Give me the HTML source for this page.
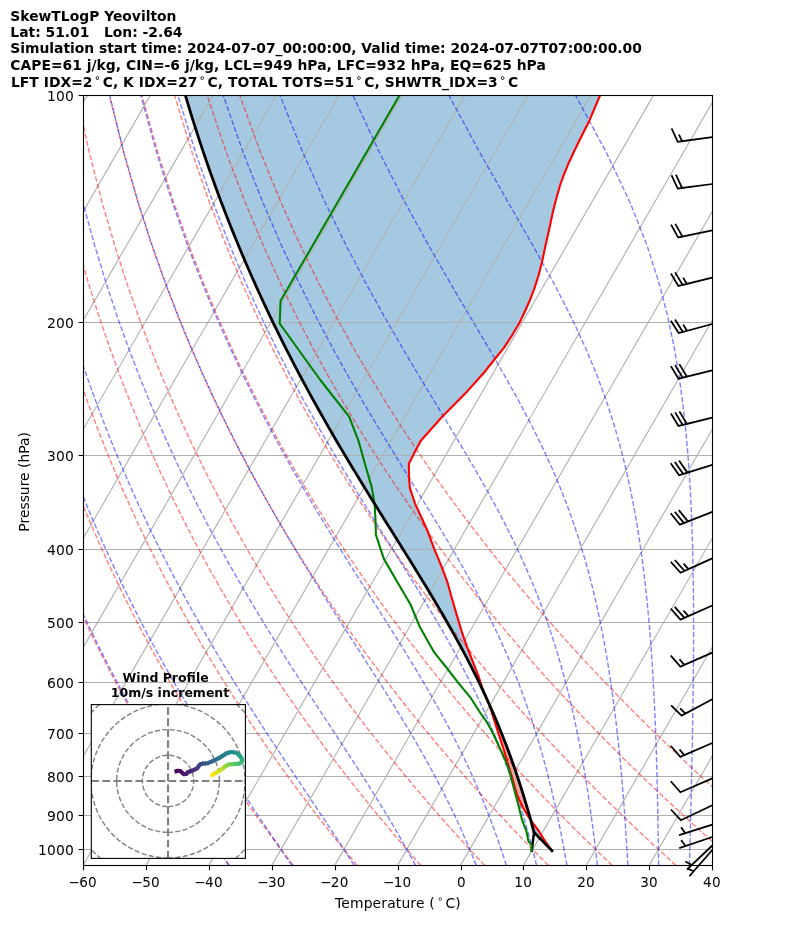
<!DOCTYPE html>
<html lang="en"><head><meta charset="utf-8"><title>SkewTLogP Yeovilton</title><style>html,body{margin:0;padding:0;background:#fff}svg{display:block}</style></head><body>
<svg width="794" height="937" viewBox="0 0 794 937" font-family="'DejaVu Sans','Liberation Sans',sans-serif" font-size="13.889px" fill="#000">
<rect width="794" height="937" fill="#fff"/>
<defs><clipPath id="ax"><rect x="83.5" y="95.5" width="629.0" height="770"/></clipPath></defs>
<g clip-path="url(#ax)">
<path d="M600 95.38 L599.65 96.33 L599.25 97.27 L598.84 98.22 L598.44 99.16 L598.04 100.11 L597.64 101.05 L597.24 102 L596.83 102.94 L596.43 103.89 L596.03 104.83 L595.63 105.78 L595.23 106.72 L594.82 107.67 L594.42 108.61 L594.03 109.56 L593.63 110.51 L593.24 111.45 L592.85 112.4 L592.45 113.34 L592.06 114.29 L591.67 115.23 L591.27 116.18 L590.88 117.12 L590.49 118.07 L590.09 119.01 L589.7 119.96 L589.25 120.9 L588.77 121.85 L588.29 122.79 L587.82 123.74 L587.34 124.69 L586.87 125.63 L586.39 126.58 L585.92 127.52 L585.44 128.47 L584.96 129.41 L584.49 130.36 L584.01 131.3 L583.54 132.25 L583.06 133.19 L582.58 134.14 L582.11 135.08 L581.64 136.03 L581.17 136.97 L580.71 137.92 L580.24 138.87 L579.77 139.81 L579.31 140.76 L578.84 141.7 L578.38 142.65 L577.91 143.59 L577.44 144.54 L576.98 145.48 L576.51 146.43 L576.04 147.37 L575.58 148.32 L575.11 149.26 L574.64 150.21 L574.19 151.15 L573.75 152.1 L573.31 153.05 L572.87 153.99 L572.43 154.94 L571.99 155.88 L571.54 156.83 L571.1 157.77 L570.66 158.72 L570.22 159.66 L569.78 160.61 L569.34 161.55 L568.89 162.5 L568.49 163.44 L568.1 164.39 L567.71 165.33 L567.32 166.28 L566.93 167.23 L566.54 168.17 L566.15 169.12 L565.77 170.06 L565.38 171.01 L564.99 171.95 L564.6 172.9 L564.21 173.84 L563.85 174.79 L563.5 175.73 L563.16 176.68 L562.81 177.62 L562.47 178.57 L562.12 179.51 L561.78 180.46 L561.43 181.41 L561.09 182.35 L560.74 183.3 L560.39 184.24 L560.1 185.19 L559.83 186.13 L559.56 187.08 L559.29 188.02 L559.01 188.97 L558.74 189.91 L558.47 190.86 L558.2 191.8 L557.93 192.75 L557.65 193.69 L557.38 194.64 L557.11 195.59 L556.84 196.53 L556.56 197.48 L556.32 198.42 L556.08 199.37 L555.84 200.31 L555.6 201.26 L555.37 202.2 L555.13 203.15 L554.89 204.09 L554.65 205.04 L554.42 205.98 L554.18 206.93 L553.94 207.87 L553.7 208.82 L553.46 209.77 L553.23 210.71 L552.99 211.66 L552.75 212.6 L552.54 213.55 L552.34 214.49 L552.13 215.44 L551.93 216.38 L551.73 217.33 L551.52 218.27 L551.32 219.22 L551.12 220.16 L550.91 221.11 L550.71 222.05 L550.51 223 L550.3 223.95 L550.1 224.89 L549.9 225.84 L549.69 226.78 L549.49 227.73 L549.29 228.67 L549.08 229.62 L548.87 230.56 L548.66 231.51 L548.45 232.45 L548.23 233.4 L548.02 234.34 L547.81 235.29 L547.6 236.23 L547.38 237.18 L547.17 238.13 L546.96 239.07 L546.74 240.02 L546.53 240.96 L546.32 241.91 L546.11 242.85 L545.89 243.8 L545.68 244.74 L545.48 245.69 L545.28 246.63 L545.07 247.58 L544.87 248.52 L544.67 249.47 L544.47 250.41 L544.27 251.36 L544.07 252.31 L543.87 253.25 L543.67 254.2 L543.47 255.14 L543.27 256.09 L543.07 257.03 L542.87 257.98 L542.67 258.92 L542.47 259.87 L542.25 260.81 L542.01 261.76 L541.77 262.7 L541.53 263.65 L541.29 264.59 L541.06 265.54 L540.82 266.49 L540.58 267.43 L540.34 268.38 L540.1 269.32 L539.87 270.27 L539.63 271.21 L539.39 272.16 L539.15 273.1 L538.92 274.05 L538.68 274.99 L538.39 275.94 L538.09 276.88 L537.78 277.83 L537.48 278.77 L537.17 279.72 L536.87 280.67 L536.56 281.61 L536.25 282.56 L535.95 283.5 L535.64 284.45 L535.34 285.39 L535.03 286.34 L534.73 287.28 L534.42 288.23 L534.08 289.17 L533.72 290.12 L533.35 291.06 L532.99 292.01 L532.62 292.95 L532.26 293.9 L531.89 294.84 L531.53 295.79 L531.17 296.74 L530.8 297.68 L530.44 298.63 L530.07 299.57 L529.71 300.52 L529.3 301.46 L528.88 302.41 L528.46 303.35 L528.03 304.3 L527.61 305.24 L527.19 306.19 L526.77 307.13 L526.34 308.08 L525.92 309.02 L525.5 309.97 L525.07 310.92 L524.65 311.86 L524.21 312.81 L523.77 313.75 L523.32 314.7 L522.87 315.64 L522.43 316.59 L521.98 317.53 L521.54 318.48 L521.09 319.42 L520.64 320.37 L520.2 321.31 L519.75 322.26 L519.28 323.2 L518.71 324.15 L518.15 325.1 L517.58 326.04 L517.01 326.99 L516.45 327.93 L515.88 328.88 L515.32 329.82 L514.75 330.77 L514.18 331.71 L513.62 332.66 L513.05 333.6 L512.49 334.55 L511.92 335.49 L511.36 336.44 L510.75 337.38 L510.13 338.33 L509.51 339.28 L508.88 340.22 L508.26 341.17 L507.64 342.11 L507.02 343.06 L506.4 344 L505.77 344.95 L505.15 345.89 L504.53 346.84 L503.91 347.78 L503.19 348.73 L502.41 349.67 L501.64 350.62 L500.87 351.56 L500.1 352.51 L499.32 353.46 L498.55 354.4 L497.78 355.35 L497 356.29 L496.23 357.24 L495.46 358.18 L494.71 359.13 L493.96 360.07 L493.22 361.02 L492.47 361.96 L491.73 362.91 L490.98 363.85 L490.24 364.8 L489.49 365.74 L488.75 366.69 L488 367.64 L487.26 368.58 L486.51 369.53 L485.77 370.47 L485.02 371.42 L484.21 372.36 L483.36 373.31 L482.52 374.25 L481.67 375.2 L480.82 376.14 L479.98 377.09 L479.13 378.03 L478.29 378.98 L477.44 379.92 L476.59 380.87 L475.75 381.82 L474.9 382.76 L474.05 383.71 L473.21 384.65 L472.36 385.6 L471.52 386.54 L470.67 387.49 L469.82 388.43 L468.98 389.38 L468.13 390.32 L467.29 391.27 L466.44 392.21 L465.59 393.16 L464.7 394.1 L463.76 395.05 L462.82 396 L461.87 396.94 L460.93 397.89 L459.99 398.83 L459.05 399.78 L458.11 400.72 L457.17 401.67 L456.23 402.61 L455.29 403.56 L454.34 404.5 L453.4 405.45 L452.46 406.39 L451.52 407.34 L450.58 408.28 L449.64 409.23 L448.7 410.18 L447.76 411.12 L446.82 412.07 L445.87 413.01 L444.93 413.96 L443.99 414.9 L443.05 415.85 L442.16 416.79 L441.32 417.74 L440.48 418.68 L439.64 419.63 L438.8 420.57 L437.96 421.52 L437.11 422.46 L436.27 423.41 L435.43 424.36 L434.59 425.3 L433.75 426.25 L432.91 427.19 L432.07 428.14 L431.23 429.08 L430.39 430.03 L429.54 430.97 L428.7 431.92 L427.86 432.86 L427.02 433.81 L426.18 434.75 L425.34 435.7 L424.5 436.64 L423.66 437.59 L422.82 438.54 L421.97 439.48 L421.13 440.43 L420.49 441.37 L419.98 442.32 L419.47 443.26 L418.97 444.21 L418.46 445.15 L417.95 446.1 L417.44 447.04 L416.93 447.99 L416.42 448.93 L415.91 449.88 L415.4 450.82 L414.91 451.77 L414.42 452.72 L413.94 453.66 L413.46 454.61 L412.97 455.55 L412.49 456.5 L412 457.44 L411.52 458.39 L411.03 459.33 L410.55 460.28 L410.07 461.22 L409.58 462.17 L409.1 463.11 L408.9 464.06 L408.9 465 L408.9 465.95 L408.9 466.9 L408.9 467.84 L408.9 468.79 L408.9 469.73 L408.9 470.68 L408.9 471.62 L408.9 472.57 L408.9 473.51 L408.9 474.46 L408.9 475.4 L408.94 476.35 L409.02 477.29 L409.1 478.24 L409.18 479.18 L409.25 480.13 L409.33 481.08 L409.41 482.02 L409.48 482.97 L409.56 483.91 L409.64 484.86 L409.71 485.8 L409.79 486.75 L409.87 487.69 L410.08 488.64 L410.39 489.58 L410.7 490.53 L411.02 491.47 L411.33 492.42 L411.64 493.36 L411.96 494.31 L412.27 495.26 L412.58 496.2 L412.9 497.15 L413.21 498.09 L413.52 499.04 L413.84 499.98 L414.15 500.93 L414.46 501.87 L414.78 502.82 L415.09 503.76 L415.49 504.71 L415.94 505.65 L416.39 506.6 L416.83 507.54 L417.28 508.49 L417.73 509.44 L418.17 510.38 L418.61 511.33 L419.04 512.27 L419.47 513.22 L419.9 514.16 L420.33 515.11 L420.76 516.05 L421.2 517 L421.63 517.94 L422.06 518.89 L422.49 519.83 L422.92 520.78 L423.35 521.72 L423.79 522.67 L424.22 523.62 L424.65 524.56 L425.08 525.51 L425.51 526.45 L425.95 527.4 L426.38 528.34 L426.81 529.29 L427.24 530.23 L427.64 531.18 L427.99 532.12 L428.34 533.07 L428.69 534.01 L429.03 534.96 L429.38 535.9 L429.73 536.85 L430.08 537.8 L430.43 538.74 L430.78 539.69 L431.12 540.63 L431.47 541.58 L431.82 542.52 L432.17 543.47 L432.52 544.41 L432.87 545.36 L433.22 546.3 L433.56 547.25 L433.91 548.19 L434.28 549.14 L434.68 550.08 L435.07 551.03 L435.46 551.98 L435.86 552.92 L436.25 553.87 L436.65 554.81 L437.04 555.76 L437.43 556.7 L437.83 557.65 L438.22 558.59 L438.62 559.54 L439.01 560.48 L439.4 561.43 L439.8 562.37 L440.19 563.32 L440.59 564.26 L440.98 565.21 L441.37 566.16 L441.75 567.1 L442.11 568.05 L442.46 568.99 L442.82 569.94 L443.18 570.88 L443.54 571.83 L443.89 572.77 L444.25 573.72 L444.61 574.66 L444.96 575.61 L445.32 576.55 L445.68 577.5 L446.03 578.44 L446.39 579.39 L446.75 580.34 L447.1 581.28 L447.42 582.23 L447.68 583.17 L447.94 584.12 L448.2 585.06 L448.46 586.01 L448.72 586.95 L448.99 587.9 L449.25 588.84 L449.51 589.79 L449.77 590.73 L450.03 591.68 L450.29 592.62 L450.55 593.57 L450.82 594.52 L451.08 595.46 L451.34 596.41 L451.6 597.35 L451.86 598.3 L452.13 599.24 L452.4 600.19 L452.68 601.13 L452.96 602.08 L453.23 603.02 L453.51 603.97 L453.78 604.91 L454.06 605.86 L454.34 606.8 L454.61 607.75 L454.89 608.7 L455.16 609.64 L455.44 610.59 L455.72 611.53 L455.99 612.48 L456.27 613.42 L456.54 614.37 L456.82 615.31 L457.11 616.26 L457.39 617.2 L457.67 618.15 L457.96 619.09 L458.24 620.04 L458.53 620.98 L458.81 621.93 L459.09 622.88 L459.38 623.82 L459.66 624.77 L459.94 625.71 L460.23 626.66 L460.51 627.6 L460.79 628.55 L461.08 629.49 L461.36 630.44 L461.67 631.38 L461.99 632.33 L462.31 633.27 L462.64 634.22 L462.96 635.16 L463.29 636.11 L463.61 637.06 L463.94 638 L464.26 638.95 L464.59 639.89 L464.91 640.84 L465.25 641.78 L465.59 642.73 L465.92 643.67 L466.26 644.62 L466.6 645.56 L466.94 646.51 L467.28 647.45 L467.62 648.4 L467.96 649.34 L468.31 650.29 L468.69 651.24 L469.06 652.18 L469.43 653.13 L469.8 654.07 L470.18 655.02 L470.55 655.96 L470.92 656.91 L471.29 657.85 L471.67 658.8 L472.04 659.74 L472.41 660.69 L472.78 661.63 L473.16 662.58 L473.53 663.52 L473.9 664.47 L474.27 665.41 L474.64 666.36 L475.02 667.31 L475.39 668.25 L475.76 669.2 L476.13 670.14 L476.51 671.09 L476.88 672.03 L477.25 672.98 L477.62 673.92 L478 674.87 L478.37 675.81 L478.72 676.76 L479.02 677.7 L479.33 678.65 L479.64 679.59 L479.94 680.54 L480.25 681.49 L480.56 682.43 L480.86 683.38 L481.17 684.32 L481.48 685.27 L481.78 686.21 L482.09 687.16 L482.42 688.1 L482.8 689.05 L483.18 689.99 L483.56 690.94 L483.94 691.88 L484.32 692.83 L484.7 693.77 L485.08 694.72 L485.46 695.67 L485.84 696.61 L486.22 697.56 L486.6 698.5 L486.62 698.5 L486.19 697.56 L485.76 696.61 L485.33 695.67 L484.88 694.72 L484.44 693.77 L484 692.83 L483.56 691.88 L483.12 690.94 L482.68 689.99 L482.23 689.05 L481.78 688.1 L481.33 687.16 L480.88 686.21 L480.42 685.27 L479.97 684.32 L479.52 683.38 L479.06 682.43 L478.6 681.49 L478.14 680.54 L477.68 679.59 L477.22 678.65 L476.76 677.7 L476.29 676.76 L475.82 675.81 L475.35 674.87 L474.88 673.92 L474.41 672.98 L473.94 672.03 L473.47 671.09 L472.99 670.14 L472.51 669.2 L472.03 668.25 L471.55 667.31 L471.07 666.36 L470.59 665.41 L470.1 664.47 L469.62 663.52 L469.13 662.58 L468.64 661.63 L468.15 660.69 L467.66 659.74 L467.17 658.8 L466.67 657.85 L466.18 656.91 L465.68 655.96 L465.18 655.02 L464.68 654.07 L464.19 653.13 L463.68 652.18 L463.18 651.24 L462.67 650.29 L462.17 649.34 L461.66 648.4 L461.15 647.45 L460.65 646.51 L460.13 645.56 L459.62 644.62 L459.1 643.67 L458.59 642.73 L458.07 641.78 L457.56 640.84 L457.04 639.89 L456.52 638.95 L456 638 L455.47 637.06 L454.95 636.11 L454.43 635.16 L453.9 634.22 L453.37 633.27 L452.84 632.33 L452.31 631.38 L451.78 630.44 L451.25 629.49 L450.72 628.55 L450.19 627.6 L449.65 626.66 L449.11 625.71 L448.57 624.77 L448.04 623.82 L447.5 622.88 L446.96 621.93 L446.42 620.98 L445.87 620.04 L445.33 619.09 L444.78 618.15 L444.24 617.2 L443.69 616.26 L443.14 615.31 L442.59 614.37 L442.04 613.42 L441.49 612.48 L440.94 611.53 L440.39 610.59 L439.84 609.64 L439.28 608.7 L438.72 607.75 L438.16 606.8 L437.61 605.86 L437.05 604.91 L436.49 603.97 L435.93 603.02 L435.37 602.08 L434.81 601.13 L434.24 600.19 L433.68 599.24 L433.12 598.3 L432.55 597.35 L431.99 596.41 L431.42 595.46 L430.85 594.52 L430.28 593.57 L429.71 592.62 L429.14 591.68 L428.57 590.73 L428 589.79 L427.43 588.84 L426.85 587.9 L426.28 586.95 L425.71 586.01 L425.14 585.06 L424.56 584.12 L423.98 583.17 L423.41 582.23 L422.83 581.28 L422.25 580.34 L421.67 579.39 L421.1 578.44 L420.52 577.5 L419.93 576.55 L419.35 575.61 L418.77 574.66 L418.19 573.72 L417.61 572.77 L417.03 571.83 L416.44 570.88 L415.86 569.94 L415.28 568.99 L414.69 568.05 L414.11 567.1 L413.52 566.16 L412.94 565.21 L412.35 564.26 L411.77 563.32 L411.18 562.37 L410.59 561.43 L410.01 560.48 L409.42 559.54 L408.83 558.59 L408.24 557.65 L407.65 556.7 L407.06 555.76 L406.48 554.81 L405.89 553.87 L405.3 552.92 L404.71 551.98 L404.12 551.03 L403.53 550.08 L402.94 549.14 L402.35 548.19 L401.76 547.25 L401.16 546.3 L400.57 545.36 L399.98 544.41 L399.39 543.47 L398.8 542.52 L398.21 541.58 L397.62 540.63 L397.02 539.69 L396.43 538.74 L395.84 537.8 L395.25 536.85 L394.66 535.9 L394.07 534.96 L393.47 534.01 L392.88 533.07 L392.29 532.12 L391.7 531.18 L391.11 530.23 L390.51 529.29 L389.92 528.34 L389.33 527.4 L388.74 526.45 L388.15 525.51 L387.56 524.56 L386.96 523.62 L386.37 522.67 L385.78 521.72 L385.19 520.78 L384.6 519.83 L384.01 518.89 L383.42 517.94 L382.83 517 L382.24 516.05 L381.65 515.11 L381.06 514.16 L380.47 513.22 L379.88 512.27 L379.29 511.33 L378.7 510.38 L378.11 509.44 L377.52 508.49 L376.93 507.54 L376.35 506.6 L375.76 505.65 L375.17 504.71 L374.58 503.76 L374 502.82 L373.41 501.87 L372.82 500.93 L372.24 499.98 L371.65 499.04 L371.06 498.09 L370.48 497.15 L369.9 496.2 L369.31 495.26 L368.73 494.31 L368.14 493.36 L367.56 492.42 L366.98 491.47 L366.39 490.53 L365.81 489.58 L365.23 488.64 L364.65 487.69 L364.07 486.75 L363.49 485.8 L362.91 484.86 L362.33 483.91 L361.75 482.97 L361.17 482.02 L360.59 481.08 L360.01 480.13 L359.44 479.18 L358.86 478.24 L358.29 477.29 L357.71 476.35 L357.13 475.4 L356.56 474.46 L355.98 473.51 L355.41 472.57 L354.84 471.62 L354.27 470.68 L353.69 469.73 L353.12 468.79 L352.55 467.84 L351.98 466.9 L351.41 465.95 L350.84 465 L350.27 464.06 L349.7 463.11 L349.14 462.17 L348.57 461.22 L348 460.28 L347.44 459.33 L346.87 458.39 L346.31 457.44 L345.74 456.5 L345.18 455.55 L344.61 454.61 L344.05 453.66 L343.49 452.72 L342.93 451.77 L342.37 450.82 L341.81 449.88 L341.25 448.93 L340.69 447.99 L340.13 447.04 L339.58 446.1 L339.02 445.15 L338.46 444.21 L337.91 443.26 L337.35 442.32 L336.8 441.37 L336.24 440.43 L335.69 439.48 L335.14 438.54 L334.59 437.59 L334.04 436.64 L333.49 435.7 L332.94 434.75 L332.39 433.81 L331.84 432.86 L331.29 431.92 L330.75 430.97 L330.2 430.03 L329.65 429.08 L329.11 428.14 L328.57 427.19 L328.03 426.25 L327.48 425.3 L326.94 424.36 L326.4 423.41 L325.86 422.46 L325.32 421.52 L324.78 420.57 L324.24 419.63 L323.7 418.68 L323.17 417.74 L322.63 416.79 L322.1 415.85 L321.56 414.9 L321.03 413.96 L320.5 413.01 L319.96 412.07 L319.43 411.12 L318.9 410.18 L318.37 409.23 L317.84 408.28 L317.31 407.34 L316.79 406.39 L316.26 405.45 L315.73 404.5 L315.21 403.56 L314.68 402.61 L314.16 401.67 L313.64 400.72 L313.11 399.78 L312.59 398.83 L312.07 397.89 L311.55 396.94 L311.03 396 L310.51 395.05 L309.99 394.1 L309.48 393.16 L308.96 392.21 L308.45 391.27 L307.93 390.32 L307.42 389.38 L306.9 388.43 L306.39 387.49 L305.88 386.54 L305.37 385.6 L304.86 384.65 L304.35 383.71 L303.84 382.76 L303.33 381.82 L302.83 380.87 L302.32 379.92 L301.82 378.98 L301.31 378.03 L300.81 377.09 L300.31 376.14 L299.8 375.2 L299.3 374.25 L298.8 373.31 L298.3 372.36 L297.8 371.42 L297.3 370.47 L296.81 369.53 L296.31 368.58 L295.81 367.64 L295.32 366.69 L294.83 365.74 L294.33 364.8 L293.84 363.85 L293.35 362.91 L292.85 361.96 L292.36 361.02 L291.88 360.07 L291.39 359.13 L290.9 358.18 L290.41 357.24 L289.93 356.29 L289.44 355.35 L288.96 354.4 L288.47 353.46 L287.99 352.51 L287.51 351.56 L287.03 350.62 L286.54 349.67 L286.06 348.73 L285.59 347.78 L285.11 346.84 L284.63 345.89 L284.16 344.95 L283.68 344 L283.2 343.06 L282.73 342.11 L282.26 341.17 L281.79 340.22 L281.31 339.28 L280.84 338.33 L280.37 337.38 L279.9 336.44 L279.43 335.49 L278.97 334.55 L278.5 333.6 L278.03 332.66 L277.57 331.71 L277.1 330.77 L276.64 329.82 L276.18 328.88 L275.72 327.93 L275.25 326.99 L274.79 326.04 L274.33 325.1 L273.87 324.15 L273.42 323.2 L272.96 322.26 L272.5 321.31 L272.05 320.37 L271.59 319.42 L271.13 318.48 L270.68 317.53 L270.23 316.59 L269.78 315.64 L269.33 314.7 L268.88 313.75 L268.43 312.81 L267.98 311.86 L267.53 310.92 L267.09 309.97 L266.64 309.02 L266.2 308.08 L265.75 307.13 L265.3 306.19 L264.86 305.24 L264.42 304.3 L263.98 303.35 L263.54 302.41 L263.1 301.46 L262.66 300.52 L262.22 299.57 L261.79 298.63 L261.35 297.68 L260.92 296.74 L260.48 295.79 L260.05 294.84 L259.61 293.9 L259.18 292.95 L258.75 292.01 L258.32 291.06 L257.89 290.12 L257.46 289.17 L257.03 288.23 L256.6 287.28 L256.17 286.34 L255.75 285.39 L255.32 284.45 L254.9 283.5 L254.47 282.56 L254.05 281.61 L253.63 280.67 L253.21 279.72 L252.79 278.77 L252.37 277.83 L251.95 276.88 L251.53 275.94 L251.11 274.99 L250.69 274.05 L250.28 273.1 L249.87 272.16 L249.45 271.21 L249.04 270.27 L248.62 269.32 L248.21 268.38 L247.8 267.43 L247.39 266.49 L246.98 265.54 L246.57 264.59 L246.16 263.65 L245.75 262.7 L245.35 261.76 L244.94 260.81 L244.54 259.87 L244.14 258.92 L243.73 257.98 L243.33 257.03 L242.92 256.09 L242.53 255.14 L242.13 254.2 L241.73 253.25 L241.33 252.31 L240.93 251.36 L240.53 250.41 L240.13 249.47 L239.74 248.52 L239.35 247.58 L238.95 246.63 L238.56 245.69 L238.16 244.74 L237.77 243.8 L237.38 242.85 L236.99 241.91 L236.6 240.96 L236.21 240.02 L235.83 239.07 L235.44 238.13 L235.05 237.18 L234.67 236.23 L234.28 235.29 L233.9 234.34 L233.51 233.4 L233.13 232.45 L232.75 231.51 L232.37 230.56 L231.99 229.62 L231.61 228.67 L231.23 227.73 L230.85 226.78 L230.47 225.84 L230.1 224.89 L229.72 223.95 L229.35 223 L228.97 222.05 L228.6 221.11 L228.23 220.16 L227.85 219.22 L227.48 218.27 L227.11 217.33 L226.74 216.38 L226.37 215.44 L226.01 214.49 L225.64 213.55 L225.27 212.6 L224.9 211.66 L224.54 210.71 L224.18 209.77 L223.81 208.82 L223.45 207.87 L223.08 206.93 L222.72 205.98 L222.36 205.04 L222.01 204.09 L221.65 203.15 L221.29 202.2 L220.93 201.26 L220.57 200.31 L220.21 199.37 L219.86 198.42 L219.51 197.48 L219.15 196.53 L218.8 195.59 L218.44 194.64 L218.09 193.69 L217.74 192.75 L217.39 191.8 L217.04 190.86 L216.69 189.91 L216.34 188.97 L216 188.02 L215.65 187.08 L215.31 186.13 L214.96 185.19 L214.62 184.24 L214.27 183.3 L213.93 182.35 L213.58 181.41 L213.24 180.46 L212.9 179.51 L212.56 178.57 L212.22 177.62 L211.88 176.68 L211.55 175.73 L211.21 174.79 L210.87 173.84 L210.54 172.9 L210.2 171.95 L209.87 171.01 L209.53 170.06 L209.2 169.12 L208.87 168.17 L208.54 167.23 L208.21 166.28 L207.88 165.33 L207.55 164.39 L207.22 163.44 L206.89 162.5 L206.57 161.55 L206.24 160.61 L205.92 159.66 L205.59 158.72 L205.26 157.77 L204.94 156.83 L204.62 155.88 L204.3 154.94 L203.98 153.99 L203.66 153.05 L203.33 152.1 L203.01 151.15 L202.7 150.21 L202.38 149.26 L202.06 148.32 L201.75 147.37 L201.43 146.43 L201.11 145.48 L200.8 144.54 L200.49 143.59 L200.18 142.65 L199.86 141.7 L199.55 140.76 L199.24 139.81 L198.93 138.87 L198.62 137.92 L198.31 136.97 L198.01 136.03 L197.7 135.08 L197.39 134.14 L197.09 133.19 L196.78 132.25 L196.48 131.3 L196.17 130.36 L195.87 129.41 L195.57 128.47 L195.27 127.52 L194.96 126.58 L194.66 125.63 L194.37 124.69 L194.07 123.74 L193.77 122.79 L193.47 121.85 L193.17 120.9 L192.88 119.96 L192.58 119.01 L192.29 118.07 L192 117.12 L191.7 116.18 L191.41 115.23 L191.12 114.29 L190.83 113.34 L190.54 112.4 L190.25 111.45 L189.96 110.51 L189.67 109.56 L189.38 108.61 L189.09 107.67 L188.81 106.72 L188.52 105.78 L188.24 104.83 L187.96 103.89 L187.67 102.94 L187.39 102 L187.1 101.05 L186.82 100.11 L186.54 99.16 L186.26 98.22 L185.98 97.27 L185.7 96.33 L185.42 95.38Z M530.42 819.5 L531.06 820.45 L531.69 821.39 L532.32 822.34 L532.98 823.29 L533.68 824.23 L534.38 825.18 L535.08 826.12 L535.78 827.07 L536.48 828.01 L537.17 828.96 L537.87 829.9 L538.57 830.85 L539.26 831.79 L539.85 832.74 L540.44 833.68 L541.03 834.63 L541.62 835.57 L542.21 836.52 L542.8 837.47 L543.39 838.41 L543.98 839.36 L544.57 840.3 L545.15 841.25 L545.79 842.19 L546.48 843.14 L547.17 844.08 L547.86 845.03 L548.55 845.97 L549.24 846.92 L549.93 847.86 L550.62 848.81 L551.31 849.75 L552 850.7 L552 850.7 L551.08 849.75 L550.15 848.81 L549.23 847.86 L548.3 846.92 L547.38 845.97 L546.45 845.03 L545.53 844.08 L544.6 843.14 L543.68 842.19 L542.75 841.25 L541.83 840.3 L540.9 839.36 L539.98 838.41 L539.05 837.47 L538.13 836.52 L537.2 835.57 L536.28 834.63 L535.35 833.68 L534.43 832.74 L533.86 831.79 L533.61 830.85 L533.36 829.9 L533.11 828.96 L532.86 828.01 L532.6 827.07 L532.35 826.12 L532.09 825.18 L531.83 824.23 L531.57 823.29 L531.31 822.34 L531.06 821.39 L530.8 820.45 L530.53 819.5Z" fill="#1f77b4" fill-opacity="0.4"/>
<path d="M486.22 697.56 L486.6 698.5 L486.98 699.45 L487.36 700.39 L487.74 701.34 L488.12 702.28 L488.5 703.23 L488.88 704.17 L489.26 705.12 L489.64 706.06 L490 707.01 L490.3 707.95 L490.6 708.9 L490.9 709.85 L491.2 710.79 L491.5 711.74 L491.8 712.68 L492.1 713.63 L492.4 714.57 L492.7 715.52 L493 716.46 L493.31 717.41 L493.61 718.35 L493.91 719.3 L494.21 720.24 L494.51 721.19 L494.81 722.13 L495.11 723.08 L495.41 724.03 L495.71 724.97 L496.01 725.92 L496.31 726.86 L496.61 727.81 L496.91 728.75 L497.21 729.7 L497.51 730.64 L497.81 731.59 L498.12 732.53 L498.42 733.48 L498.72 734.42 L499.02 735.37 L499.34 736.31 L499.65 737.26 L499.96 738.21 L500.27 739.15 L500.59 740.1 L500.9 741.04 L501.21 741.99 L501.53 742.93 L501.84 743.88 L502.15 744.82 L502.46 745.77 L502.78 746.71 L503.09 747.66 L503.4 748.6 L503.69 749.55 L503.98 750.49 L504.26 751.44 L504.54 752.39 L504.82 753.33 L505.11 754.28 L505.39 755.22 L505.67 756.17 L505.95 757.11 L506.24 758.06 L506.52 759 L506.8 759.95 L507.08 760.89 L507.37 761.84 L507.65 762.78 L507.93 763.73 L508.21 764.67 L508.5 765.62 L508.78 766.57 L509.06 767.51 L509.34 768.46 L509.62 769.4 L509.9 770.35 L510.19 771.29 L510.47 772.24 L510.75 773.18 L511.03 774.13 L511.31 775.07 L511.59 776.02 L511.88 776.96 L512.16 777.91 L512.44 778.85 L512.72 779.8 L513 780.75 L513.28 781.69 L513.55 782.64 L513.83 783.58 L514.1 784.53 L514.38 785.47 L514.65 786.42 L514.93 787.36 L515.2 788.31 L515.48 789.25 L515.76 790.2 L516.03 791.14 L516.31 792.09 L516.58 793.03 L516.86 793.98 L517.13 794.93 L517.47 795.87 L517.91 796.82 L518.34 797.76 L518.78 798.71 L519.21 799.65 L519.65 800.6 L520.08 801.54 L520.52 802.49 L520.96 803.43 L521.39 804.38 L521.83 805.32 L522.26 806.27 L522.73 807.21 L523.3 808.16 L523.87 809.11 L524.44 810.05 L525.01 811 L525.58 811.94 L526.15 812.89 L526.72 813.83 L527.29 814.78 L527.88 815.72 L528.52 816.67 L529.15 817.61 L529.79 818.56 L530.42 819.5 L531.06 820.45 L530.8 820.45 L530.53 819.5 L530.27 818.56 L530 817.61 L529.74 816.67 L529.47 815.72 L529.2 814.78 L528.94 813.83 L528.67 812.89 L528.39 811.94 L528.12 811 L527.85 810.05 L527.57 809.11 L527.3 808.16 L527.02 807.21 L526.74 806.27 L526.46 805.32 L526.18 804.38 L525.9 803.43 L525.62 802.49 L525.34 801.54 L525.05 800.6 L524.77 799.65 L524.48 798.71 L524.19 797.76 L523.9 796.82 L523.61 795.87 L523.32 794.93 L523.03 793.98 L522.73 793.03 L522.44 792.09 L522.14 791.14 L521.84 790.2 L521.55 789.25 L521.25 788.31 L520.94 787.36 L520.64 786.42 L520.34 785.47 L520.03 784.53 L519.73 783.58 L519.42 782.64 L519.11 781.69 L518.8 780.75 L518.49 779.8 L518.18 778.85 L517.86 777.91 L517.55 776.96 L517.24 776.02 L516.91 775.07 L516.59 774.13 L516.27 773.18 L515.95 772.24 L515.63 771.29 L515.31 770.35 L514.98 769.4 L514.66 768.46 L514.33 767.51 L514 766.57 L513.67 765.62 L513.34 764.67 L513.01 763.73 L512.67 762.78 L512.33 761.84 L511.99 760.89 L511.66 759.95 L511.32 759 L510.98 758.06 L510.64 757.11 L510.29 756.17 L509.94 755.22 L509.6 754.28 L509.25 753.33 L508.9 752.39 L508.55 751.44 L508.2 750.49 L507.84 749.55 L507.49 748.6 L507.13 747.66 L506.78 746.71 L506.42 745.77 L506.06 744.82 L505.69 743.88 L505.33 742.93 L504.96 741.99 L504.6 741.04 L504.24 740.1 L503.87 739.15 L503.49 738.21 L503.12 737.26 L502.75 736.31 L502.37 735.37 L502 734.42 L501.63 733.48 L501.24 732.53 L500.86 731.59 L500.48 730.64 L500.09 729.7 L499.71 728.75 L499.33 727.81 L498.94 726.86 L498.55 725.92 L498.16 724.97 L497.76 724.03 L497.37 723.08 L496.98 722.13 L496.59 721.19 L496.19 720.24 L495.78 719.3 L495.38 718.35 L494.98 717.41 L494.58 716.46 L494.17 715.52 L493.77 714.57 L493.36 713.63 L492.95 712.68 L492.54 711.74 L492.12 710.79 L491.71 709.85 L491.3 708.9 L490.88 707.95 L490.46 707.01 L490.04 706.06 L489.62 705.12 L489.19 704.17 L488.77 703.23 L488.35 702.28 L487.92 701.34 L487.49 700.39 L487.06 699.45 L486.62 698.5 L486.19 697.56Z" fill="#d62728" fill-opacity="0.4"/>
<path d="M-420.1 865.38L24.46 95.38 M-357.2 865.38L87.36 95.38 M-294.3 865.38L150.26 95.38 M-231.4 865.38L213.16 95.38 M-168.5 865.38L276.06 95.38 M-105.6 865.38L338.96 95.38 M-42.7 865.38L401.86 95.38 M20.2 865.38L464.76 95.38 M83.1 865.38L527.66 95.38 M146 865.38L590.56 95.38 M208.9 865.38L653.46 95.38 M271.8 865.38L716.36 95.38 M334.7 865.38L779.26 95.38 M397.6 865.38L842.16 95.38 M460.5 865.38L905.06 95.38 M523.4 865.38L967.96 95.38 M586.3 865.38L1030.86 95.38 M649.2 865.38L1093.76 95.38 M712.1 865.38L1156.66 95.38" stroke="#b0b0b0" stroke-width="1.1" fill="none"/>
<path d="M83.5 95.5H712.5 M83.5 322.5H712.5 M83.5 455.5H712.5 M83.5 549.5H712.5 M83.5 622.5H712.5 M83.5 682.5H712.5 M83.5 733.5H712.5 M83.5 776.5H712.5 M83.5 815.5H712.5 M83.5 849.5H712.5" stroke="#b0b0b0" stroke-width="1.05" fill="none"/>
<path d="M229.49 865.38 L225.11 859.28 L220.7 853.06 L216.24 846.72 L211.75 840.25 L207.21 833.66 L202.62 826.93 L198 820.06 L193.32 813.04 L188.6 805.87 L183.83 798.53 L179.01 791.03 L174.14 783.36 L169.21 775.49 L164.23 767.44 L159.2 759.18 L154.11 750.71 L148.96 742.01 L143.75 733.08 L138.48 723.9 L133.14 714.45 L127.74 704.72 L122.27 694.69 L116.73 684.34 L111.11 673.66 L105.43 662.62 L99.66 651.19 L93.82 639.35 L87.9 627.06 L81.89 614.3 L75.79 601.02 L69.61 587.17 L63.33 572.72 L56.97 557.6 L50.5 541.74 L43.94 525.08 L37.28 507.52 L30.51 488.97 L23.65 469.31 L16.69 448.39 L9.64 426.04 L2.49 402.05 L-4.73 376.17 L-12.01 348.06 L-19.32 317.31 L-26.63 283.38 L-33.85 245.51 L-40.88 202.69 L-47.53 153.41 L-53.48 95.38 M293.27 865.38 L288.56 859.28 L283.8 853.06 L279 846.72 L274.15 840.25 L269.25 833.66 L264.3 826.93 L259.31 820.06 L254.26 813.04 L249.15 805.87 L244 798.53 L238.78 791.03 L233.51 783.36 L228.18 775.49 L222.79 767.44 L217.34 759.18 L211.82 750.71 L206.23 742.01 L200.58 733.08 L194.85 723.9 L189.05 714.45 L183.18 704.72 L177.23 694.69 L171.19 684.34 L165.07 673.66 L158.87 662.62 L152.57 651.19 L146.19 639.35 L139.71 627.06 L133.12 614.3 L126.44 601.02 L119.65 587.17 L112.74 572.72 L105.73 557.6 L98.59 541.74 L91.34 525.08 L83.95 507.52 L76.44 488.97 L68.8 469.31 L61.02 448.39 L53.11 426.04 L45.07 402.05 L36.89 376.17 L28.6 348.06 L20.22 317.31 L11.76 283.38 L3.29 245.51 L-5.1 202.69 L-13.26 153.41 L-20.9 95.38 M357.05 865.38 L352 859.28 L346.9 853.06 L341.75 846.72 L336.55 840.25 L331.29 833.66 L325.98 826.93 L320.62 820.06 L315.19 813.04 L309.71 805.87 L304.17 798.53 L298.56 791.03 L292.89 783.36 L287.16 775.49 L281.35 767.44 L275.48 759.18 L269.53 750.71 L263.51 742.01 L257.41 733.08 L251.23 723.9 L244.97 714.45 L238.62 704.72 L232.18 694.69 L225.65 684.34 L219.03 673.66 L212.31 662.62 L205.49 651.19 L198.55 639.35 L191.51 627.06 L184.36 614.3 L177.08 601.02 L169.68 587.17 L162.15 572.72 L154.49 557.6 L146.68 541.74 L138.73 525.08 L130.63 507.52 L122.37 488.97 L113.95 469.31 L105.35 448.39 L96.58 426.04 L87.64 402.05 L78.52 376.17 L69.22 348.06 L59.76 317.31 L50.15 283.38 L40.43 245.51 L30.67 202.69 L21.01 153.41 L11.68 95.38 M420.84 865.38 L415.45 859.28 L410 853.06 L404.5 846.72 L398.95 840.25 L393.33 833.66 L387.66 826.93 L381.93 820.06 L376.13 813.04 L370.27 805.87 L364.34 798.53 L358.34 791.03 L352.27 783.36 L346.13 775.49 L339.91 767.44 L333.62 759.18 L327.24 750.71 L320.78 742.01 L314.24 733.08 L307.6 723.9 L300.88 714.45 L294.06 704.72 L287.14 694.69 L280.12 684.34 L272.99 673.66 L265.75 662.62 L258.4 651.19 L250.92 639.35 L243.32 627.06 L235.59 614.3 L227.73 601.02 L219.72 587.17 L211.56 572.72 L203.25 557.6 L194.78 541.74 L186.13 525.08 L177.31 507.52 L168.3 488.97 L159.09 469.31 L149.68 448.39 L140.06 426.04 L130.21 402.05 L120.14 376.17 L109.83 348.06 L99.29 317.31 L88.53 283.38 L77.57 245.51 L66.45 202.69 L55.28 153.41 L44.26 95.38 M484.62 865.38 L478.89 859.28 L473.1 853.06 L467.26 846.72 L461.35 840.25 L455.38 833.66 L449.34 826.93 L443.24 820.06 L437.06 813.04 L430.82 805.87 L424.51 798.53 L418.12 791.03 L411.65 783.36 L405.1 775.49 L398.47 767.44 L391.75 759.18 L384.95 750.71 L378.06 742.01 L371.07 733.08 L363.98 723.9 L356.79 714.45 L349.5 704.72 L342.1 694.69 L334.58 684.34 L326.95 673.66 L319.19 662.62 L311.31 651.19 L303.29 639.35 L295.13 627.06 L286.83 614.3 L278.37 601.02 L269.76 587.17 L260.97 572.72 L252.01 557.6 L242.87 541.74 L233.53 525.08 L223.99 507.52 L214.23 488.97 L204.24 469.31 L194.01 448.39 L183.53 426.04 L172.79 402.05 L161.76 376.17 L150.45 348.06 L138.83 317.31 L126.92 283.38 L114.71 245.51 L102.23 202.69 L89.55 153.41 L76.84 95.38 M548.4 865.38 L542.33 859.28 L536.2 853.06 L530.01 846.72 L523.75 840.25 L517.42 833.66 L511.02 826.93 L504.55 820.06 L498 813.04 L491.38 805.87 L484.68 798.53 L477.89 791.03 L471.03 783.36 L464.07 775.49 L457.03 767.44 L449.89 759.18 L442.66 750.71 L435.33 742.01 L427.9 733.08 L420.36 723.9 L412.71 714.45 L404.94 704.72 L397.05 694.69 L389.05 684.34 L380.91 673.66 L372.63 662.62 L364.22 651.19 L355.66 639.35 L346.94 627.06 L338.06 614.3 L329.02 601.02 L319.79 587.17 L310.38 572.72 L300.77 557.6 L290.96 541.74 L280.93 525.08 L270.66 507.52 L260.15 488.97 L249.39 469.31 L238.34 448.39 L227.01 426.04 L215.36 402.05 L203.39 376.17 L191.06 348.06 L178.37 317.31 L165.3 283.38 L151.84 245.51 L138 202.69 L123.82 153.41 L109.42 95.38 M612.18 865.38 L605.78 859.28 L599.3 853.06 L592.76 846.72 L586.15 840.25 L579.46 833.66 L572.7 826.93 L565.86 820.06 L558.94 813.04 L551.93 805.87 L544.84 798.53 L537.67 791.03 L530.4 783.36 L523.04 775.49 L515.59 767.44 L508.03 759.18 L500.37 750.71 L492.6 742.01 L484.73 733.08 L476.73 723.9 L468.62 714.45 L460.38 704.72 L452.01 694.69 L443.51 684.34 L434.86 673.66 L426.07 662.62 L417.13 651.19 L408.02 639.35 L398.75 627.06 L389.3 614.3 L379.66 601.02 L369.83 587.17 L359.79 572.72 L349.54 557.6 L339.05 541.74 L328.32 525.08 L317.34 507.52 L306.08 488.97 L294.53 469.31 L282.67 448.39 L270.48 426.04 L257.93 402.05 L245.01 376.17 L231.68 348.06 L217.91 317.31 L203.69 283.38 L188.98 245.51 L173.78 202.69 L158.09 153.41 L142 95.38 M675.97 865.38 L669.22 859.28 L662.4 853.06 L655.51 846.72 L648.55 840.25 L641.5 833.66 L634.37 826.93 L627.17 820.06 L619.87 813.04 L612.49 805.87 L605.01 798.53 L597.45 791.03 L589.78 783.36 L582.02 775.49 L574.15 767.44 L566.17 759.18 L558.08 750.71 L549.88 742.01 L541.56 733.08 L533.11 723.9 L524.53 714.45 L515.82 704.72 L506.97 694.69 L497.97 684.34 L488.82 673.66 L479.51 662.62 L470.04 651.19 L460.39 639.35 L450.56 627.06 L440.53 614.3 L430.31 601.02 L419.87 587.17 L409.2 572.72 L398.3 557.6 L387.14 541.74 L375.72 525.08 L364.02 507.52 L352.01 488.97 L339.68 469.31 L327 448.39 L313.95 426.04 L300.51 402.05 L286.63 376.17 L272.29 348.06 L257.45 317.31 L242.08 283.38 L226.12 245.51 L209.56 202.69 L192.36 153.41 L174.58 95.38 M739.75 865.38 L732.67 859.28 L725.51 853.06 L718.27 846.72 L710.95 840.25 L703.54 833.66 L696.05 826.93 L688.48 820.06 L680.81 813.04 L673.04 805.87 L665.18 798.53 L657.22 791.03 L649.16 783.36 L640.99 775.49 L632.71 767.44 L624.31 759.18 L615.79 750.71 L607.15 742.01 L598.39 733.08 L589.48 723.9 L580.44 714.45 L571.26 704.72 L561.93 694.69 L552.44 684.34 L542.78 673.66 L532.96 662.62 L522.95 651.19 L512.76 639.35 L502.37 627.06 L491.77 614.3 L480.95 601.02 L469.9 587.17 L458.61 572.72 L447.06 557.6 L435.24 541.74 L423.12 525.08 L410.69 507.52 L397.94 488.97 L384.83 469.31 L371.33 448.39 L357.43 426.04 L343.08 402.05 L328.25 376.17 L312.91 348.06 L296.99 317.31 L280.46 283.38 L263.26 245.51 L245.33 202.69 L226.63 153.41 L207.15 95.38 M803.53 865.38 L796.11 859.28 L788.61 853.06 L781.02 846.72 L773.35 840.25 L765.58 833.66 L757.73 826.93 L749.79 820.06 L741.74 813.04 L733.6 805.87 L725.35 798.53 L717 791.03 L708.54 783.36 L699.96 775.49 L691.26 767.44 L682.45 759.18 L673.5 750.71 L664.43 742.01 L655.21 733.08 L645.86 723.9 L636.36 714.45 L626.7 704.72 L616.88 694.69 L606.9 684.34 L596.74 673.66 L586.4 662.62 L575.86 651.19 L565.12 639.35 L554.17 627.06 L543 614.3 L531.59 601.02 L519.94 587.17 L508.02 572.72 L495.82 557.6 L483.33 541.74 L470.52 525.08 L457.37 507.52 L443.87 488.97 L429.97 469.31 L415.66 448.39 L400.9 426.04 L385.66 402.05 L369.88 376.17 L353.52 348.06 L336.53 317.31 L318.85 283.38 L300.4 245.51 L281.11 202.69 L260.91 153.41 L239.73 95.38" stroke="#ff0000" stroke-opacity="0.5" stroke-width="1.39" stroke-dasharray="5.14 2.22" fill="none"/>
<path d="M228.92 865.38 L224.78 859.28 L220.58 853.06 L216.32 846.72 L212.01 840.25 L207.63 833.66 L203.2 826.93 L198.7 820.06 L194.15 813.04 L189.54 805.87 L184.86 798.53 L180.13 791.03 L175.33 783.36 L170.47 775.49 L165.54 767.44 L160.56 759.18 L155.5 750.71 L150.39 742.01 L145.2 733.08 L139.95 723.9 L134.63 714.45 L129.24 704.72 L123.77 694.69 L118.23 684.34 L112.62 673.66 L106.93 662.62 L101.16 651.19 L95.31 639.35 L89.37 627.06 L83.35 614.3 L77.24 601.02 L71.05 587.17 L64.75 572.72 L58.37 557.6 L51.89 541.74 L45.3 525.08 L38.62 507.52 L31.84 488.97 L24.95 469.31 L17.97 448.39 L10.89 426.04 L3.72 402.05 L-3.53 376.17 L-10.84 348.06 L-18.18 317.31 L-25.52 283.38 L-32.78 245.51 L-39.85 202.69 L-46.54 153.41 L-52.54 95.38 M291.9 865.38 L287.75 859.28 L283.51 853.06 L279.2 846.72 L274.8 840.25 L270.31 833.66 L265.75 826.93 L261.1 820.06 L256.37 813.04 L251.56 805.87 L246.66 798.53 L241.68 791.03 L236.62 783.36 L231.47 775.49 L226.24 767.44 L220.92 759.18 L215.52 750.71 L210.03 742.01 L204.46 733.08 L198.8 723.9 L193.05 714.45 L187.21 704.72 L181.29 694.69 L175.27 684.34 L169.16 673.66 L162.95 662.62 L156.64 651.19 L150.24 639.35 L143.73 627.06 L137.12 614.3 L130.4 601.02 L123.57 587.17 L116.63 572.72 L109.57 557.6 L102.38 541.74 L95.07 525.08 L87.64 507.52 L80.07 488.97 L72.36 469.31 L64.52 448.39 L56.54 426.04 L48.43 402.05 L40.18 376.17 L31.81 348.06 L23.34 317.31 L14.79 283.38 L6.22 245.51 L-2.28 202.69 L-10.56 153.41 L-18.33 95.38 M354.17 865.38 L350.28 859.28 L346.29 853.06 L342.18 846.72 L337.97 840.25 L333.65 833.66 L329.21 826.93 L324.65 820.06 L319.98 813.04 L315.19 805.87 L310.29 798.53 L305.27 791.03 L300.13 783.36 L294.87 775.49 L289.49 767.44 L283.99 759.18 L278.37 750.71 L272.63 742.01 L266.78 733.08 L260.8 723.9 L254.7 714.45 L248.49 704.72 L242.15 694.69 L235.69 684.34 L229.11 673.66 L222.41 662.62 L215.58 651.19 L208.63 639.35 L201.54 627.06 L194.33 614.3 L186.98 601.02 L179.5 587.17 L171.87 572.72 L164.1 557.6 L156.18 541.74 L148.1 525.08 L139.86 507.52 L131.46 488.97 L122.88 469.31 L114.13 448.39 L105.19 426.04 L96.07 402.05 L86.76 376.17 L77.26 348.06 L67.59 317.31 L57.75 283.38 L47.78 245.51 L37.76 202.69 L27.8 153.41 L18.13 95.38 M415.54 865.38 L412.25 859.28 L408.85 853.06 L405.32 846.72 L401.67 840.25 L397.88 833.66 L393.95 826.93 L389.88 820.06 L385.67 813.04 L381.3 805.87 L376.78 798.53 L372.11 791.03 L367.27 783.36 L362.26 775.49 L357.09 767.44 L351.75 759.18 L346.23 750.71 L340.54 742.01 L334.68 733.08 L328.64 723.9 L322.43 714.45 L316.04 704.72 L309.47 694.69 L302.72 684.34 L295.8 673.66 L288.7 662.62 L281.43 651.19 L273.98 639.35 L266.36 627.06 L258.55 614.3 L250.57 601.02 L242.41 587.17 L234.06 572.72 L225.53 557.6 L216.81 541.74 L207.89 525.08 L198.76 507.52 L189.43 488.97 L179.88 469.31 L170.1 448.39 L160.09 426.04 L149.84 402.05 L139.33 376.17 L128.56 348.06 L117.52 317.31 L106.23 283.38 L94.69 245.51 L82.94 202.69 L71.08 153.41 L59.28 95.38 M476.19 865.38 L473.77 859.28 L471.24 853.06 L468.6 846.72 L465.84 840.25 L462.97 833.66 L459.96 826.93 L456.81 820.06 L453.52 813.04 L450.07 805.87 L446.47 798.53 L442.69 791.03 L438.73 783.36 L434.58 775.49 L430.24 767.44 L425.68 759.18 L420.91 750.71 L415.91 742.01 L410.68 733.08 L405.2 723.9 L399.47 714.45 L393.48 704.72 L387.23 694.69 L380.71 684.34 L373.91 673.66 L366.84 662.62 L359.49 651.19 L351.86 639.35 L343.95 627.06 L335.77 614.3 L327.3 601.02 L318.56 587.17 L309.54 572.72 L300.25 557.6 L290.69 541.74 L280.85 525.08 L270.73 507.52 L260.32 488.97 L249.63 469.31 L238.63 448.39 L227.32 426.04 L215.69 402.05 L203.72 376.17 L191.4 348.06 L178.71 317.31 L165.63 283.38 L152.16 245.51 L138.31 202.69 L124.11 153.41 L109.69 95.38 M506.4 865.38 L504.44 859.28 L502.4 853.06 L500.26 846.72 L498.03 840.25 L495.69 833.66 L493.23 826.93 L490.66 820.06 L487.95 813.04 L485.11 805.87 L482.13 798.53 L478.99 791.03 L475.68 783.36 L472.19 775.49 L468.51 767.44 L464.64 759.18 L460.54 750.71 L456.22 742.01 L451.65 733.08 L446.83 723.9 L441.73 714.45 L436.35 704.72 L430.67 694.69 L424.68 684.34 L418.36 673.66 L411.7 662.62 L404.7 651.19 L397.35 639.35 L389.63 627.06 L381.55 614.3 L373.1 601.02 L364.29 587.17 L355.12 572.72 L345.58 557.6 L335.68 541.74 L325.42 525.08 L314.8 507.52 L303.83 488.97 L292.5 469.31 L280.81 448.39 L268.74 426.04 L256.29 402.05 L243.44 376.17 L230.16 348.06 L216.45 317.31 L202.28 283.38 L187.62 245.51 L172.47 202.69 L156.83 153.41 L140.8 95.38 M536.63 865.38 L535.13 859.28 L533.56 853.06 L531.93 846.72 L530.21 840.25 L528.41 833.66 L526.52 826.93 L524.54 820.06 L522.45 813.04 L520.25 805.87 L517.93 798.53 L515.48 791.03 L512.9 783.36 L510.16 775.49 L507.26 767.44 L504.19 759.18 L500.92 750.71 L497.45 742.01 L493.77 733.08 L489.84 723.9 L485.65 714.45 L481.18 704.72 L476.41 694.69 L471.33 684.34 L465.89 673.66 L460.09 662.62 L453.89 651.19 L447.28 639.35 L440.23 627.06 L432.73 614.3 L424.76 601.02 L416.3 587.17 L407.35 572.72 L397.9 557.6 L387.94 541.74 L377.5 525.08 L366.55 507.52 L355.12 488.97 L343.2 469.31 L330.81 448.39 L317.93 426.04 L304.56 402.05 L290.7 376.17 L276.33 348.06 L261.42 317.31 L245.95 283.38 L229.88 245.51 L213.18 202.69 L195.83 153.41 L177.87 95.38 M566.93 865.38 L565.86 859.28 L564.74 853.06 L563.58 846.72 L562.35 840.25 L561.07 833.66 L559.72 826.93 L558.3 820.06 L556.8 813.04 L555.22 805.87 L553.56 798.53 L551.8 791.03 L549.93 783.36 L547.95 775.49 L545.85 767.44 L543.62 759.18 L541.24 750.71 L538.69 742.01 L535.98 733.08 L533.07 723.9 L529.95 714.45 L526.6 704.72 L522.99 694.69 L519.1 684.34 L514.91 673.66 L510.37 662.62 L505.46 651.19 L500.14 639.35 L494.37 627.06 L488.11 614.3 L481.32 601.02 L473.96 587.17 L465.99 572.72 L457.38 557.6 L448.09 541.74 L438.1 525.08 L427.39 507.52 L415.96 488.97 L403.82 469.31 L390.96 448.39 L377.4 426.04 L363.16 402.05 L348.23 376.17 L332.62 348.06 L316.32 317.31 L299.3 283.38 L281.52 245.51 L262.94 202.69 L243.51 153.41 L223.19 95.38 M597.35 865.38 L596.67 859.28 L595.95 853.06 L595.21 846.72 L594.42 840.25 L593.6 833.66 L592.73 826.93 L591.82 820.06 L590.86 813.04 L589.84 805.87 L588.77 798.53 L587.63 791.03 L586.43 783.36 L585.15 775.49 L583.79 767.44 L582.34 759.18 L580.78 750.71 L579.12 742.01 L577.34 733.08 L575.43 723.9 L573.37 714.45 L571.15 704.72 L568.74 694.69 L566.13 684.34 L563.3 673.66 L560.21 662.62 L556.83 651.19 L553.13 639.35 L549.07 627.06 L544.59 614.3 L539.65 601.02 L534.18 587.17 L528.13 572.72 L521.4 557.6 L513.94 541.74 L505.65 525.08 L496.45 507.52 L486.28 488.97 L475.06 469.31 L462.76 448.39 L449.34 426.04 L434.81 402.05 L419.18 376.17 L402.49 348.06 L384.74 317.31 L365.97 283.38 L346.16 245.51 L325.27 202.69 L303.24 153.41 L279.99 95.38 M627.91 865.38 L627.56 859.28 L627.2 853.06 L626.81 846.72 L626.4 840.25 L625.98 833.66 L625.53 826.93 L625.05 820.06 L624.55 813.04 L624.01 805.87 L623.45 798.53 L622.84 791.03 L622.2 783.36 L621.52 775.49 L620.79 767.44 L620.01 759.18 L619.17 750.71 L618.26 742.01 L617.29 733.08 L616.24 723.9 L615.11 714.45 L613.87 704.72 L612.53 694.69 L611.07 684.34 L609.47 673.66 L607.71 662.62 L605.77 651.19 L603.64 639.35 L601.27 627.06 L598.63 614.3 L595.69 601.02 L592.38 587.17 L588.66 572.72 L584.45 557.6 L579.67 541.74 L574.22 525.08 L567.97 507.52 L560.78 488.97 L552.51 469.31 L542.96 448.39 L531.96 426.04 L519.32 402.05 L504.91 376.17 L488.64 348.06 L470.47 317.31 L450.45 283.38 L428.65 245.51 L405.15 202.69 L379.94 153.41 L352.97 95.38 M658.62 865.38 L658.55 859.28 L658.47 853.06 L658.39 846.72 L658.3 840.25 L658.2 833.66 L658.09 826.93 L657.97 820.06 L657.84 813.04 L657.7 805.87 L657.55 798.53 L657.38 791.03 L657.2 783.36 L657 775.49 L656.78 767.44 L656.53 759.18 L656.27 750.71 L655.97 742.01 L655.65 733.08 L655.29 723.9 L654.89 714.45 L654.44 704.72 L653.95 694.69 L653.4 684.34 L652.78 673.66 L652.09 662.62 L651.32 651.19 L650.44 639.35 L649.45 627.06 L648.33 614.3 L647.05 601.02 L645.58 587.17 L643.9 572.72 L641.96 557.6 L639.71 541.74 L637.08 525.08 L633.99 507.52 L630.34 488.97 L625.99 469.31 L620.76 448.39 L614.45 426.04 L606.74 402.05 L597.29 376.17 L585.66 348.06 L571.34 317.31 L553.87 283.38 L532.89 245.51 L508.31 202.69 L480.26 153.41 L448.99 95.38 M689.48 865.38 L689.63 859.28 L689.78 853.06 L689.94 846.72 L690.1 840.25 L690.26 833.66 L690.43 826.93 L690.59 820.06 L690.76 813.04 L690.93 805.87 L691.11 798.53 L691.28 791.03 L691.46 783.36 L691.63 775.49 L691.81 767.44 L691.98 759.18 L692.16 750.71 L692.33 742.01 L692.5 733.08 L692.66 723.9 L692.82 714.45 L692.97 704.72 L693.11 694.69 L693.24 684.34 L693.36 673.66 L693.45 662.62 L693.53 651.19 L693.58 639.35 L693.59 627.06 L693.57 614.3 L693.49 601.02 L693.36 587.17 L693.15 572.72 L692.86 557.6 L692.45 541.74 L691.9 525.08 L691.17 507.52 L690.23 488.97 L689 469.31 L687.4 448.39 L685.33 426.04 L682.62 402.05 L679.06 376.17 L674.31 348.06 L667.92 317.31 L659.18 283.38 L647.07 245.51 L630.15 202.69 L606.76 153.41 L575.59 95.38 M720.46 865.38 L720.79 859.28 L721.13 853.06 L721.47 846.72 L721.83 840.25 L722.19 833.66 L722.57 826.93 L722.96 820.06 L723.36 813.04 L723.77 805.87 L724.19 798.53 L724.62 791.03 L725.07 783.36 L725.53 775.49 L726 767.44 L726.49 759.18 L726.99 750.71 L727.51 742.01 L728.04 733.08 L728.59 723.9 L729.16 714.45 L729.74 704.72 L730.34 694.69 L730.96 684.34 L731.6 673.66 L732.25 662.62 L732.93 651.19 L733.62 639.35 L734.33 627.06 L735.07 614.3 L735.82 601.02 L736.59 587.17 L737.37 572.72 L738.16 557.6 L738.96 541.74 L739.77 525.08 L740.57 507.52 L741.36 488.97 L742.12 469.31 L742.82 448.39 L743.45 426.04 L743.94 402.05 L744.24 376.17 L744.24 348.06 L743.78 317.31 L742.6 283.38 L740.27 245.51 L736.02 202.69 L728.41 153.41 L714.66 95.38 M751.55 865.38 L752.02 859.28 L752.49 853.06 L752.98 846.72 L753.49 840.25 L754.01 833.66 L754.54 826.93 L755.09 820.06 L755.66 813.04 L756.25 805.87 L756.86 798.53 L757.48 791.03 L758.13 783.36 L758.8 775.49 L759.49 767.44 L760.21 759.18 L760.95 750.71 L761.72 742.01 L762.51 733.08 L763.34 723.9 L764.19 714.45 L765.08 704.72 L766.01 694.69 L766.97 684.34 L767.97 673.66 L769.01 662.62 L770.1 651.19 L771.24 639.35 L772.42 627.06 L773.66 614.3 L774.96 601.02 L776.32 587.17 L777.75 572.72 L779.25 557.6 L780.83 541.74 L782.49 525.08 L784.24 507.52 L786.09 488.97 L788.05 469.31 L790.12 448.39 L792.31 426.04 L794.63 402.05 L797.09 376.17 L799.68 348.06 L802.41 317.31 L805.26 283.38 L808.17 245.51 L811.01 202.69 L813.54 153.41 L815.09 95.38" stroke="#0000ff" stroke-opacity="0.5" stroke-width="1.39" stroke-dasharray="5.14 2.22" fill="none"/>
<path d="M600 95.5 L594.3 108.9 L589.6 120.2 L582 135.3 L574.5 150.5 L568.8 162.7 L564.1 174.1 L560.3 184.5 L556.5 197.7 L552.7 212.8 L549 230 L545.6 245.1 L542.4 260.2 L538.6 275.3 L534.3 288.6 L529.6 300.8 L524.5 312.2 L519.4 323 L511.2 336.7 L503.7 348.1 L495.2 358.5 L484.8 371.7 L465.2 393.6 L442.6 416.3 L420.8 440.8 L415.2 451.2 L408.9 463.5 L408.9 475.8 L409.9 488.1 L415.2 504.1 L418 510 L427.5 530.8 L434.1 548.7 L441.6 566.7 L447.3 581.8 L452 598.8 L456.7 614.9 L461.5 630.9 L465 641.1 L468.2 650 L478.6 676.4 L482.3 687.8 L489.9 706.7 L498.9 735 L503.5 748.9 L508.4 765.3 L512.9 780.4 L517.3 795.5 L522.6 807 L527.6 815.3 L532.7 822.9 L539.2 831.7 L545.5 841.8 L552 850.7" stroke="#ff0000" stroke-width="2.1" fill="none" stroke-linejoin="round"/>
<path d="M531.7 850.9L534 832.3" stroke="#000" stroke-width="2.5" fill="none" stroke-linecap="square"/>
<path d="M399.4 95.5 L321.6 230 L280.6 300.8 L279.7 323.5 L298 349 L320.3 380 L349.1 416.7 L358.5 440.8 L365.1 464.5 L371.7 487.1 L374.6 504.1 L375.5 520 L375.9 534.6 L380.2 547.8 L384 559.1 L397.2 581.8 L410.5 604.5 L419.9 627.1 L430 645 L434.4 652.6 L447.6 669 L457.7 682.2 L470.3 697.3 L480.4 713 L486.7 721.9 L491.7 730.7 L496.1 740 L505 759.6 L509 770 L513.4 786.4 L517.8 802.7 L522.2 820.4 L526.6 831.7 L528.4 841.2 L531.5 844.9 L531.7 850.9" stroke="#008000" stroke-width="2.1" fill="none" stroke-linejoin="round" stroke-linecap="square"/>
<path d="M552 850.7 L534 832.3 L532.35 826.11 L530.65 819.91 L528.91 813.72 L527.12 807.53 L525.28 801.34 L523.39 795.14 L521.45 788.95 L519.46 782.76 L517.42 776.57 L515.32 770.37 L513.17 764.18 L510.96 757.99 L508.69 751.8 L506.36 745.6 L503.97 739.41 L501.52 733.22 L499.01 727.03 L496.44 720.83 L493.8 714.64 L491.1 708.45 L488.34 702.26 L485.51 696.06 L482.62 689.87 L479.67 683.68 L476.65 677.48 L473.57 671.29 L470.43 665.1 L467.23 658.91 L463.97 652.71 L460.65 646.52 L457.28 640.33 L453.86 634.14 L450.38 627.94 L446.86 621.75 L443.29 615.56 L439.68 609.37 L436.02 603.17 L432.33 596.98 L428.61 590.79 L424.85 584.6 L421.07 578.4 L417.27 572.21 L413.44 566.02 L409.6 559.83 L405.74 553.63 L401.88 547.44 L398 541.25 L394.13 535.05 L390.25 528.86 L386.37 522.67 L382.5 516.48 L378.64 510.28 L374.79 504.09 L370.94 497.9 L367.12 491.71 L363.31 485.51 L359.52 479.32 L355.75 473.13 L352 466.94 L348.28 460.74 L344.58 454.55 L340.91 448.36 L337.26 442.17 L333.64 435.97 L330.06 429.78 L326.5 423.59 L322.97 417.4 L319.48 411.2 L316.01 405.01 L312.58 398.82 L309.18 392.63 L305.82 386.43 L302.49 380.24 L299.19 374.05 L295.93 367.85 L292.7 361.66 L289.5 355.47 L286.34 349.28 L283.21 343.08 L280.12 336.89 L277.07 330.7 L274.04 324.51 L271.06 318.31 L268.1 312.12 L265.18 305.93 L262.3 299.74 L259.45 293.54 L256.63 287.35 L253.85 281.16 L251.1 274.97 L248.38 268.77 L245.7 262.58 L243.05 256.39 L240.44 250.2 L237.86 244 L235.31 237.81 L232.79 231.62 L230.31 225.42 L227.86 219.23 L225.44 213.04 L223.05 206.85 L220.7 200.65 L218.38 194.46 L216.09 188.27 L213.83 182.08 L211.6 175.88 L209.4 169.69 L207.24 163.5 L205.1 157.31 L203 151.11 L200.93 144.92 L198.88 138.73 L196.87 132.54 L194.89 126.34 L192.94 120.15 L191.01 113.96 L189.12 107.77 L187.26 101.57 L185.42 95.38" stroke="#000" stroke-width="2.8" fill="none" stroke-linejoin="round" stroke-linecap="square"/>
</g>
<rect x="83.5" y="95.5" width="629.0" height="770" fill="none" stroke="#000" stroke-width="1.11"/>
<path d="M83.5 865.5v4.86 M146.5 865.5v4.86 M209.5 865.5v4.86 M272.5 865.5v4.86 M335.5 865.5v4.86 M398.5 865.5v4.86 M461.5 865.5v4.86 M523.5 865.5v4.86 M586.5 865.5v4.86 M649.5 865.5v4.86 M712.5 865.5v4.86 M83.5 95.5h-4.86 M83.5 322.5h-4.86 M83.5 455.5h-4.86 M83.5 549.5h-4.86 M83.5 622.5h-4.86 M83.5 682.5h-4.86 M83.5 733.5h-4.86 M83.5 776.5h-4.86 M83.5 815.5h-4.86 M83.5 849.5h-4.86" stroke="#000" stroke-width="1.11" fill="none"/>
<text x="82.75" y="886.98" text-anchor="middle" font-size="13.6px" letter-spacing="0.2">−<tspan dx="-0.9">60</tspan></text>
<text x="145.65" y="886.98" text-anchor="middle" font-size="13.6px" letter-spacing="0.2">−<tspan dx="-0.9">50</tspan></text>
<text x="208.55" y="886.98" text-anchor="middle" font-size="13.6px" letter-spacing="0.2">−<tspan dx="-0.9">40</tspan></text>
<text x="271.45" y="886.98" text-anchor="middle" font-size="13.6px" letter-spacing="0.2">−<tspan dx="-0.9">30</tspan></text>
<text x="334.35" y="886.98" text-anchor="middle" font-size="13.6px" letter-spacing="0.2">−<tspan dx="-0.9">20</tspan></text>
<text x="397.25" y="886.98" text-anchor="middle" font-size="13.6px" letter-spacing="0.2">−<tspan dx="-0.9">10</tspan></text>
<text x="461.4" y="886.98" text-anchor="middle" font-size="13.6px" letter-spacing="0.2">0</text>
<text x="523.2" y="886.98" text-anchor="middle" font-size="13.6px" letter-spacing="0.2">10</text>
<text x="586.1" y="886.98" text-anchor="middle" font-size="13.6px" letter-spacing="0.2">20</text>
<text x="649" y="886.98" text-anchor="middle" font-size="13.6px" letter-spacing="0.2">30</text>
<text x="711.9" y="886.98" text-anchor="middle" font-size="13.6px" letter-spacing="0.2">40</text>
<text x="74" y="100.85" text-anchor="end" letter-spacing="0.16">100</text>
<text x="74" y="327.85" text-anchor="end" letter-spacing="0.16">200</text>
<text x="74" y="460.85" text-anchor="end" letter-spacing="0.16">300</text>
<text x="74" y="554.85" text-anchor="end" letter-spacing="0.16">400</text>
<text x="74" y="627.85" text-anchor="end" letter-spacing="0.16">500</text>
<text x="74" y="687.85" text-anchor="end" letter-spacing="0.16">600</text>
<text x="74" y="738.85" text-anchor="end" letter-spacing="0.16">700</text>
<text x="74" y="781.85" text-anchor="end" letter-spacing="0.16">800</text>
<text x="74" y="820.85" text-anchor="end" letter-spacing="0.16">900</text>
<text x="74" y="854.85" text-anchor="end" letter-spacing="0.16">1000</text>
<text x="335.0" y="907.88" textLength="99.6">Temperature (</text>
<text x="440.3" y="901.68" font-size="9.72px" text-anchor="middle">∘</text>
<text x="445.5" y="907.88">C)</text>
<text transform="translate(29.2 481.88) rotate(-90)" text-anchor="middle">Pressure (hPa)</text>
<path d="M712.3 137.2 L677.74 141.75 L671.6 128.49 L677.74 141.75 L682.06 141.18 L678.99 134.55 L682.06 141.18Z M712.3 184 L677.74 188.55 L671.6 175.29 L677.74 188.55 L682.06 187.98 L675.92 174.73 L682.06 187.98Z M712.3 230.4 L678.16 237.47 L671.07 224.7 L678.16 237.47 L682.43 236.59 L675.34 223.81 L682.43 236.59Z M712.3 277.7 L678.43 285.96 L670.9 273.44 L678.43 285.96 L682.67 284.92 L675.13 272.41 L682.67 284.92 L686.9 283.89 L683.13 277.63 L686.9 283.89Z M712.3 324 L678.63 333.02 L670.81 320.68 L678.63 333.02 L682.84 331.89 L675.02 319.55 L682.84 331.89 L687.05 330.77 L683.14 324.6 L687.05 330.77Z M712.3 370.4 L678.43 378.66 L670.9 366.14 L678.43 378.66 L682.67 377.62 L675.13 365.11 L682.67 377.62 L686.9 376.59 L679.36 364.08 L686.9 376.59Z M712.3 417.7 L678.43 425.96 L670.9 413.44 L678.43 425.96 L682.67 424.92 L675.13 412.41 L682.67 424.92 L686.9 423.89 L679.36 411.38 L686.9 423.89Z M712.3 464.8 L679.04 475.22 L670.71 463.22 L679.04 475.22 L683.19 473.92 L674.87 461.92 L683.19 473.92 L687.35 472.62 L679.02 460.62 L687.35 472.62Z M712.3 511.9 L679.87 524.68 L670.7 513.3 L679.87 524.68 L683.92 523.08 L674.76 511.7 L683.92 523.08 L687.97 521.48 L678.81 510.11 L687.97 521.48Z M712.3 558.4 L680.53 572.75 L670.82 561.83 L680.53 572.75 L684.5 570.95 L674.79 560.04 L684.5 570.95 L688.47 569.16 L683.62 563.7 L688.47 569.16Z M712.3 605.5 L680.43 619.62 L670.8 608.64 L680.43 619.62 L684.41 617.86 L674.78 606.87 L684.41 617.86 L688.4 616.09 L683.58 610.6 L688.4 616.09Z M712.3 652.6 L680.38 666.61 L670.79 655.6 L680.38 666.61 L684.37 664.86 L679.57 659.35 L684.37 664.86Z M712.3 699.2 L681.55 715.62 L671.14 705.37 L681.55 715.62 L685.39 713.57 L680.19 708.44 L685.39 713.57Z M712.3 743 L680.28 756.79 L670.77 745.71 L680.28 756.79 L684.29 755.07 L679.53 749.52 L684.29 755.07Z M712.3 778.4 L680.33 792.3 L670.78 781.25 L680.33 792.3Z M712.3 805.2 L680.84 820.21 L670.9 809.5 L680.84 820.21Z M712.3 824.6 L679.07 835.14 L685.3 833.16 L681.12 827.18 L685.3 833.16Z M712.3 837 L679.24 848.06 L685.44 845.99 L681.16 840.07 L685.44 845.99Z M712.3 845.5 L687.01 869.5 L691.75 865 L685.38 861.44 L691.75 865Z M712.3 850 L689.34 876.23 L693.64 871.31 L686.96 868.36 L693.64 871.31Z" stroke="#000" stroke-width="1.75" fill="#000" stroke-linejoin="miter"/>
<defs><clipPath id="hod"><rect x="91.3" y="704.6" width="154.1" height="153.8"/></clipPath></defs>
<rect x="91.3" y="704.6" width="154.1" height="153.8" fill="#fff"/>
<g clip-path="url(#hod)">
<path d="M168.05 806.63A25.68 25.68 0 0 0 193.73 780.95A25.68 25.68 0 0 0 168.05 755.27A25.68 25.68 0 0 0 142.37 780.95A25.68 25.68 0 0 0 168.05 806.63" fill="none" stroke="#808080" stroke-width="1.39" stroke-dasharray="5.14 2.22"/>
<path d="M168.05 832.32A51.37 51.37 0 0 0 219.42 780.95A51.37 51.37 0 0 0 168.05 729.58A51.37 51.37 0 0 0 116.68 780.95A51.37 51.37 0 0 0 168.05 832.32" fill="none" stroke="#808080" stroke-width="1.39" stroke-dasharray="5.14 2.22"/>
<path d="M168.05 858A77.05 77.05 0 0 0 245.1 780.95A77.05 77.05 0 0 0 168.05 703.9A77.05 77.05 0 0 0 91 780.95A77.05 77.05 0 0 0 168.05 858" fill="none" stroke="#808080" stroke-width="1.39" stroke-dasharray="5.14 2.22"/>
<path d="M168.05 883.68A102.73 102.73 0 0 0 270.78 780.95A102.73 102.73 0 0 0 168.05 678.22A102.73 102.73 0 0 0 65.32 780.95A102.73 102.73 0 0 0 168.05 883.68" fill="none" stroke="#808080" stroke-width="1.39" stroke-dasharray="5.14 2.22"/>
<path d="M91.3 780.95H245.4M168.05 858.4V704.6" fill="none" stroke="#808080" stroke-width="2.08" stroke-dasharray="7.71 3.33"/>
<path d="M174.5 771.77L178.34 770.68" stroke="#440256" stroke-width="4.05" fill="none"/>
<path d="M176.97 770.85L180.84 770.96" stroke="#46085c" stroke-width="4.05" fill="none"/>
<path d="M179.62 770.48L182.53 773.05" stroke="#470d60" stroke-width="4.05" fill="none"/>
<path d="M181.51 772.09L184.24 774.79" stroke="#471365" stroke-width="4.05" fill="none"/>
<path d="M183.04 774.35L186.87 774.07" stroke="#481769" stroke-width="4.05" fill="none"/>
<path d="M185.72 774.66L188.28 771.59" stroke="#481b6d" stroke-width="4.05" fill="none"/>
<path d="M187.17 772.36L190.89 771.02" stroke="#482071" stroke-width="4.05" fill="none"/>
<path d="M189.56 771.46L193.4 770.35" stroke="#482677" stroke-width="4.05" fill="none"/>
<path d="M192.11 770.85L195.68 769.06" stroke="#472d7b" stroke-width="4.05" fill="none"/>
<path d="M194.43 769.7L197.99 767.88" stroke="#46337f" stroke-width="4.05" fill="none"/>
<path d="M196.99 768.78L199.14 765.47" stroke="#443a83" stroke-width="4.05" fill="none"/>
<path d="M198.32 766.6L200.81 763.5" stroke="#424186" stroke-width="4.05" fill="none"/>
<path d="M199.68 764.19L203.45 763.41" stroke="#3f4889" stroke-width="4.05" fill="none"/>
<path d="M202.06 763.55L206.06 763.55" stroke="#3c508b" stroke-width="4.05" fill="none"/>
<path d="M204.67 763.68L208.55 762.96" stroke="#39568c" stroke-width="4.05" fill="none"/>
<path d="M207.22 763.36L210.91 761.82" stroke="#365d8d" stroke-width="4.05" fill="none"/>
<path d="M209.62 762.36L213.31 760.82" stroke="#33638d" stroke-width="4.05" fill="none"/>
<path d="M212.03 761.39L215.63 759.66" stroke="#30698e" stroke-width="4.05" fill="none"/>
<path d="M214.38 760.28L217.95 758.49" stroke="#2e6e8e" stroke-width="4.05" fill="none"/>
<path d="M216.7 759.11L220.28 757.33" stroke="#2c738e" stroke-width="4.05" fill="none"/>
<path d="M219.05 757.99L222.49 755.96" stroke="#2a788e" stroke-width="4.05" fill="none"/>
<path d="M221.3 756.71L224.63 754.49" stroke="#287c8e" stroke-width="4.05" fill="none"/>
<path d="M223.46 755.27L226.79 753.05" stroke="#26818e" stroke-width="4.05" fill="none"/>
<path d="M225.55 753.68L229.25 752.3" stroke="#25848e" stroke-width="4.05" fill="none"/>
<path d="M227.91 752.68L231.83 751.9" stroke="#23898e" stroke-width="4.05" fill="none"/>
<path d="M230.45 751.97L234.42 752.34" stroke="#218e8d" stroke-width="4.05" fill="none"/>
<path d="M233.03 752.19L237 752.66" stroke="#20938c" stroke-width="4.05" fill="none"/>
<path d="M235.77 752.13L238.74 754.67" stroke="#1f9a8a" stroke-width="4.05" fill="none"/>
<path d="M237.73 753.7L240.46 756.63" stroke="#1fa188" stroke-width="4.05" fill="none"/>
<path d="M239.57 755.55L241.9 758.8" stroke="#21a685" stroke-width="4.05" fill="none"/>
<path d="M241.23 757.58L242.63 761.07" stroke="#25ac82" stroke-width="4.05" fill="none"/>
<path d="M242.69 759.8L240.88 763.27" stroke="#2eb37c" stroke-width="4.05" fill="none"/>
<path d="M241.83 762.34L238.23 764.07" stroke="#3bbb75" stroke-width="4.05" fill="none"/>
<path d="M239.56 763.72L235.57 763.96" stroke="#48c16e" stroke-width="4.05" fill="none"/>
<path d="M236.96 763.88L232.97 764.12" stroke="#52c569" stroke-width="4.05" fill="none"/>
<path d="M234.37 764.04L230.38 764.28" stroke="#5ec962" stroke-width="4.05" fill="none"/>
<path d="M231.78 764.19L227.78 764.43" stroke="#6ccd5a" stroke-width="4.05" fill="none"/>
<path d="M229.08 764.01L225.74 766.13" stroke="#7cd250" stroke-width="4.05" fill="none"/>
<path d="M226.89 765.34L223.67 767.72" stroke="#90d743" stroke-width="4.05" fill="none"/>
<path d="M224.8 766.88L221.6 769.28" stroke="#a5db36" stroke-width="4.05" fill="none"/>
<path d="M222.73 768.45L219.47 770.76" stroke="#b8de29" stroke-width="4.05" fill="none"/>
<path d="M220.64 769.99L217.21 772.05" stroke="#cae11f" stroke-width="4.05" fill="none"/>
<path d="M218.41 771.33L214.98 773.39" stroke="#dae319" stroke-width="4.05" fill="none"/>
<path d="M216.19 772.69L212.7 774.63" stroke="#eae51a" stroke-width="4.05" fill="none"/>
<path d="M213.92 773.95L210.42 775.88" stroke="#f8e621" stroke-width="4.05" fill="none"/>
</g>
<rect x="91.3" y="704.6" width="154.1" height="153.8" fill="none" stroke="#000" stroke-width="1.11"/>
<text x="165.55" y="681.8" text-anchor="middle" font-weight="bold" font-size="12.5px">Wind Profile</text>
<text x="170.05" y="697.3" text-anchor="middle" font-weight="bold" font-size="12.5px">10m/s increment</text>
<g font-weight="bold" style="white-space:pre">
<text x="10.3" y="20.7" xml:space="preserve">SkewTLogP Yeovilton</text>
<text x="10.3" y="36.9" xml:space="preserve">Lat: 51.01   Lon: -2.64</text>
<text x="10.3" y="53.1" textLength="631.5" xml:space="preserve">Simulation start time: 2024-07-07_00:00:00, Valid time: 2024-07-07T07:00:00.00</text>
<text x="10.3" y="69.9" textLength="535.5" xml:space="preserve">CAPE=61 j/kg, CIN=-6 j/kg, LCL=949 hPa, LFC=932 hPa, EQ=625 hPa</text>
<text x="10.9" y="87.0" textLength="507.2" xml:space="preserve">LFT IDX=2<tspan font-size="9.72px" dy="-6.3" dx="2.0">∘</tspan><tspan dy="6.3" dx="2.0">C, K IDX=27</tspan><tspan font-size="9.72px" dy="-6.3" dx="2.0">∘</tspan><tspan dy="6.3" dx="2.0">C, TOTAL TOTS=51</tspan><tspan font-size="9.72px" dy="-6.3" dx="2.0">∘</tspan><tspan dy="6.3" dx="2.0">C, SHWTR_IDX=3</tspan><tspan font-size="9.72px" dy="-6.3" dx="2.0">∘</tspan><tspan dy="6.3" dx="2.0">C</tspan></text>
</g>
</svg>
</body></html>
